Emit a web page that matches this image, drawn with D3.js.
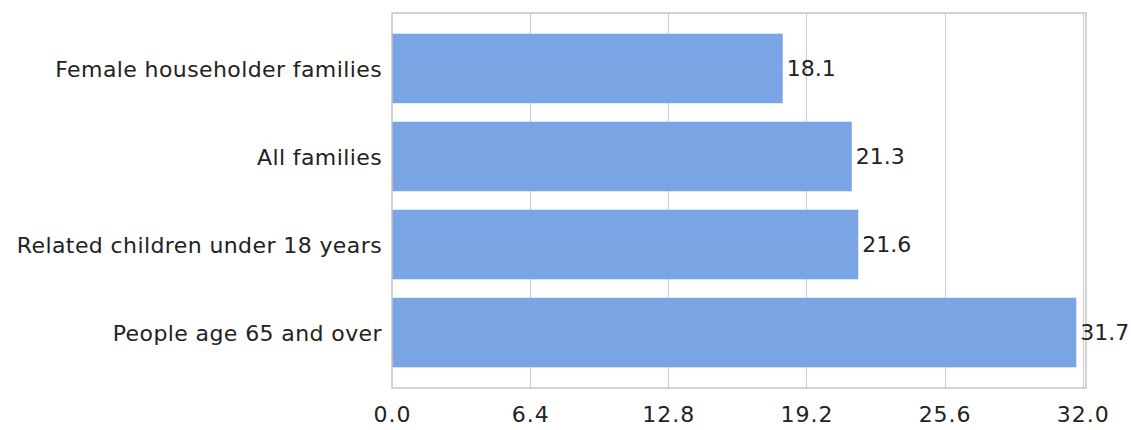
<!DOCTYPE html>
<html>
<head>
<meta charset="utf-8">
<script src="https://cdn.jsdelivr.net/npm/d3@7"></script>
<style>
  html, body { margin: 0; padding: 0; background: #fff; }
  svg { display: block; }
  text { font-family: "DejaVu Sans", sans-serif; fill: #222; }
</style>
</head>
<body>
<svg id="chart" width="1131" height="430"></svg>
<script>
const categories = ["Female householder families", "All families", "Related children under 18 years", "People age 65 and over"];
const values = [18.1, 21.3, 21.6, 31.7];
const tickValues = [0.0, 6.4, 12.8, 19.2, 25.6, 32.0];

const W = 1131, H = 430;
const plot = { left: 392, right: 1086, top: 13, bottom: 388 };
const fontSize = 22;

const svg = d3.select("#chart");

const x = d3.scaleLinear().domain([0, 32.15]).range([plot.left, plot.right]);
const y = d3.scaleBand().domain(categories).range([plot.top, plot.bottom])
  .paddingInner(0.21).paddingOuter(0.235);

// gridlines
svg.append("g").selectAll("line").data(tickValues.filter(t => t > 0 && x(t) < plot.right - 3)).join("line")
  .attr("x1", d => Math.round(x(d)) + 0.5).attr("x2", d => Math.round(x(d)) + 0.5)
  .attr("y1", plot.top).attr("y2", plot.bottom)
  .attr("stroke", "#cccccc").attr("stroke-width", 1);

// bars
svg.append("g").selectAll("rect").data(values).join("rect")
  .attr("x", x(0))
  .attr("y", (d, i) => y(categories[i]))
  .attr("width", d => x(d) - x(0))
  .attr("height", y.bandwidth())
  .attr("fill", "#7aa5e4");

// plot border
svg.append("rect")
  .attr("x", plot.left).attr("y", plot.top)
  .attr("width", plot.right - plot.left).attr("height", plot.bottom - plot.top)
  .attr("fill", "none").attr("stroke", "#c4c4c4").attr("stroke-width", 1.5);

// value labels
svg.append("g").selectAll("text").data(values).join("text")
  .attr("x", d => x(d) + 4)
  .attr("y", (d, i) => y(categories[i]) + y.bandwidth() / 2)
  .attr("dy", "0.36em")
  .attr("font-size", fontSize)
  .text(d => d.toFixed(1));

// y axis labels
const yAxis = d3.axisLeft(y).tickSize(0).tickPadding(10);
const gy = svg.append("g").attr("transform", `translate(${plot.left},0)`).call(yAxis);
gy.select(".domain").remove();
gy.selectAll("text").attr("font-size", fontSize).attr("font-family", "DejaVu Sans, sans-serif")
  .attr("fill", "#222").attr("dy", "0.4em").attr("letter-spacing", "0.4px");

// x axis labels
const xAxis = d3.axisBottom(x).tickValues(tickValues).tickSize(0).tickPadding(0)
  .tickFormat(d => d.toFixed(1));
const gx = svg.append("g").attr("transform", `translate(0,${plot.bottom})`).call(xAxis);
gx.select(".domain").remove();
gx.selectAll("text").attr("font-size", fontSize).attr("font-family", "DejaVu Sans, sans-serif")
  .attr("fill", "#222").attr("dy", null).attr("y", 34).attr("letter-spacing", "1px");
</script>
</body>
</html>
